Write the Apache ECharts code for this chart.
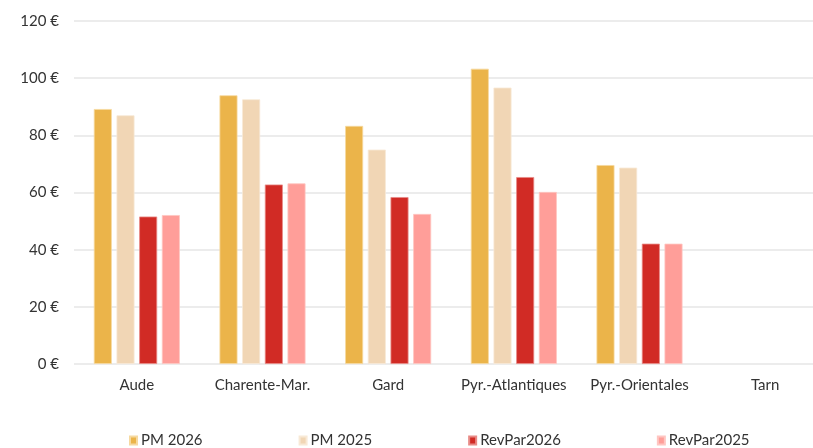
<!DOCTYPE html>
<html>
<head>
<meta charset="utf-8">
<script src="https://cdn.jsdelivr.net/npm/echarts@6/dist/echarts.min.js"></script>
<style>html,body{margin:0;padding:0;background:#fff;}#c{width:813px;height:448px;}</style>
</head>
<body>
<div id="c"></div>
<script>
const categories = ['Aude', 'Charente-Mar.', 'Gard', 'Pyr.-Atlantiques', 'Pyr.-Orientales', 'Tarn'];
const pm2026 = [89.2, 94.0, 83.3, 103.3, 69.6, null];
const pm2025 = [87.0, 92.6, 75.0, 96.7, 68.7, null];
const revpar2026 = [51.6, 62.8, 58.4, 65.4, 42.1, null];
const revpar2025 = [52.1, 63.2, 52.5, 60.2, 42.1, null];
const seriesNames = ['PM 2026', 'PM 2025', 'RevPar2026', 'RevPar2025'];
const yTicks = [0, 20, 40, 60, 80, 100, 120];

const colors = ['#EBB44A', '#F1D6B5', '#D12B25', '#FF9E99'];
const borders = ['#F6D9A0', '#F8E9D6', '#E88A86', '#FFC6C2'];
const FONT = 'Lato';
const TXT = '#333333';

const chart = echarts.init(document.getElementById('c'), null, {renderer: 'canvas'});
const data = [pm2026, pm2025, revpar2026, revpar2025];
chart.setOption({
  animation: false,
  textStyle: {fontFamily: FONT},
  grid: {left: 74, width: 754, top: 21, height: 343, containLabel: false, outerBoundsMode: 'none'},
  legend: {
    left: 124, top: 428,
    itemWidth: 7, itemHeight: 8, itemGap: 96,
    icon: 'rect',
    textStyle: {fontFamily: FONT, fontSize: 15, color: TXT, padding: [0, 0, 0, -1]},
    data: seriesNames
  },
  xAxis: {
    type: 'category',
    data: categories,
    axisLine: {show: false},
    axisTick: {show: false},
    axisLabel: {fontFamily: FONT, fontSize: 15, color: TXT, margin: 14, interval: 0}
  },
  yAxis: {
    type: 'value',
    min: yTicks[0], max: yTicks[yTicks.length - 1], interval: 20,
    axisLine: {show: false},
    axisTick: {show: false},
    splitLine: {lineStyle: {color: '#E6E6E6', width: 1.5}},
    axisLabel: {fontFamily: FONT, fontSize: 15, color: TXT, margin: 15, formatter: v => v + ' €'}
  },
  series: seriesNames.map((n, i) => ({
    name: n,
    type: 'bar',
    data: data[i],
    barWidth: 18,
    barGap: '26%',
    itemStyle: {color: colors[i], borderColor: borders[i], borderWidth: 0.8}
  }))
});
</script>
</body>
</html>
